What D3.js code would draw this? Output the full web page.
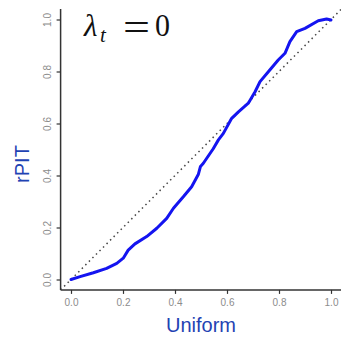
<!DOCTYPE html>
<html>
<head>
<meta charset="utf-8">
<script src="https://cdn.jsdelivr.net/npm/d3@7"></script>
<style>
  html, body { margin: 0; padding: 0; background: #fff; }
  svg { display: block; }
</style>
</head>
<body>
<svg id="chart" width="341" height="339"></svg>
<script>
// Uniform quantiles and the matching empirical rPIT values
const uniformQ = [0.0, 0.035, 0.086, 0.137, 0.176, 0.201, 0.22, 0.246, 0.291, 0.33, 0.368, 0.394,
  0.432, 0.464, 0.49, 0.498, 0.509, 0.547, 0.567, 0.586, 0.618, 0.644, 0.682, 0.708, 0.727,
  0.759, 0.797, 0.823, 0.842, 0.868, 0.9, 0.951, 0.983, 1.0];
const rpit = [0.0, 0.011, 0.026, 0.043, 0.062, 0.082, 0.113, 0.137, 0.165, 0.197, 0.235, 0.274,
  0.318, 0.357, 0.405, 0.435, 0.447, 0.503, 0.537, 0.562, 0.62, 0.645, 0.678, 0.722, 0.761,
  0.799, 0.844, 0.87, 0.915, 0.953, 0.966, 0.995, 1.002, 0.998];
const tickValues = [0, 0.2, 0.4, 0.6, 0.8, 1.0];
const tickLabels = ["0.0", "0.2", "0.4", "0.6", "0.8", "1.0"];
const xTitle = "Uniform";
const yTitle = "rPIT";

const svg = d3.select("#chart");

// Plot region with 4% padding on each side of [0, 1]
const x = d3.scaleLinear().domain([-0.04, 1.04]).range([60.6, 341.4]);
const y = d3.scaleLinear().domain([-0.04, 1.04]).range([289.9, 9.1]);

const axisColor = "#333";
const labelColor = "#8c8c8c";
const titleColor = "#1f43b3";

svg.append("defs").append("clipPath").attr("id", "plotClip")
  .append("rect")
  .attr("x", x(-0.04)).attr("y", y(1.04))
  .attr("width", x(1.04) - x(-0.04)).attr("height", y(-0.04) - y(1.04));

// Bottom axis
const xAxis = svg.append("g")
  .attr("transform", `translate(0,${y(-0.04)})`)
  .call(d3.axisBottom(x).tickValues(tickValues).tickSize(4).tickSizeOuter(0)
    .tickFormat((d, i) => tickLabels[i]));
xAxis.select(".domain").attr("stroke", axisColor).attr("stroke-width", 1.5)
  .attr("d", `M${x(-0.04)},0H${x(1.04)}`);
xAxis.selectAll(".tick line").attr("stroke", axisColor).attr("stroke-width", 1.2);
xAxis.selectAll(".tick text").attr("fill", labelColor)
  .attr("font-family", "Liberation Sans, Arial, sans-serif").attr("font-size", 10)
  .attr("dy", "0.71em").attr("y", 9);

// Left axis, labels rotated to read upward
const yAxis = svg.append("g")
  .attr("transform", `translate(${x(-0.04)},0)`)
  .call(d3.axisLeft(y).tickValues(tickValues).tickSize(4).tickSizeOuter(0)
    .tickFormat((d, i) => tickLabels[i]));
yAxis.select(".domain").attr("stroke", axisColor).attr("stroke-width", 1.5)
  .attr("d", `M0,${y(-0.04)}V${y(1.04)}`);
yAxis.selectAll(".tick line").attr("stroke", axisColor).attr("stroke-width", 1.2);
yAxis.selectAll(".tick text").attr("fill", labelColor)
  .attr("font-family", "Liberation Sans, Arial, sans-serif").attr("font-size", 10)
  .attr("text-anchor", "middle")
  .attr("x", 0).attr("dy", 0)
  .attr("transform", "translate(-13,0) rotate(-90)")
  .attr("dominant-baseline", "central");

// Reference diagonal y = x
const plot = svg.append("g").attr("clip-path", "url(#plotClip)");
plot.append("line")
  .attr("x1", x(-0.04)).attr("y1", y(-0.04))
  .attr("x2", x(1.04)).attr("y2", y(1.04))
  .attr("stroke", "#444").attr("stroke-width", 1.5)
  .attr("stroke-dasharray", "1.5,3.5");

// rPIT curve
const pts = uniformQ.map((u, i) => [u, rpit[i]]);
plot.append("path")
  .datum(pts)
  .attr("fill", "none")
  .attr("stroke", "#1414f0")
  .attr("stroke-width", 3)
  .attr("stroke-linejoin", "round")
  .attr("stroke-linecap", "round")
  .attr("d", d3.line().x(d => x(d[0])).y(d => y(d[1])));

// Axis titles
svg.append("text")
  .attr("x", 201).attr("y", 332)
  .attr("text-anchor", "middle")
  .attr("font-family", "Liberation Sans, Arial, sans-serif")
  .attr("font-size", 20)
  .attr("fill", titleColor)
  .text(xTitle);

svg.append("text")
  .attr("transform", "translate(29,164) rotate(-90)")
  .attr("text-anchor", "middle")
  .attr("font-family", "Liberation Sans, Arial, sans-serif")
  .attr("font-size", 20)
  .attr("fill", titleColor)
  .text(yTitle);

// Panel label λ_t = 0
const serif = "Liberation Serif, 'DejaVu Serif', serif";
const panel = svg.append("g").attr("fill", "#111").attr("font-family", serif);
panel.append("text").attr("x", 84).attr("y", 36)
  .attr("font-size", 31).attr("font-style", "italic").text("λ");
panel.append("text").attr("x", 100).attr("y", 42)
  .attr("font-size", 21).attr("font-style", "italic").text("t");
panel.append("text").attr("x", 123).attr("y", 40)
  .attr("font-size", 38).attr("textLength", 27).attr("lengthAdjust", "spacingAndGlyphs").text("=");
panel.append("text").attr("x", 155).attr("y", 36)
  .attr("font-size", 31).attr("textLength", 15).attr("lengthAdjust", "spacingAndGlyphs").text("0");
</script>
</body>
</html>
